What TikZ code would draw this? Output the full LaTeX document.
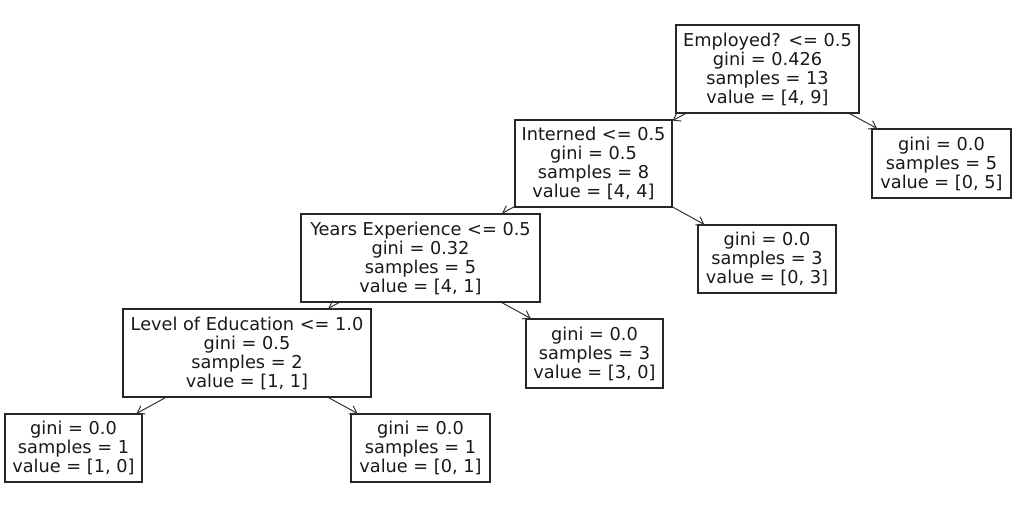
\documentclass[tikz,border=0pt]{standalone}
\usepackage{fontspec}
\setmainfont{DejaVu Sans}
\usetikzlibrary{arrows.meta}
\tikzset{
  treebox/.style={draw=black!85, line width=0.8pt, rectangle, inner sep=0pt, align=center,
    font=\fontsize{13.3}{14.25}\selectfont, text=black!90},
  edge/.style={draw=black!80, line width=0.75pt, -{Straight Barb[length=5pt,width=7pt]}}
}
\begin{document}
\begin{tikzpicture}[x=0.75pt,y=-0.75pt]
\useasboundingbox (0,0) rectangle (1020,520);
\node[treebox, minimum width=183*0.75pt, minimum height=88*0.75pt] (root) at (767.5,69)
  {Employed? <= 0.5\\gini = 0.426\\samples = 13\\value = [4, 9]};
\node[treebox, minimum width=139*0.75pt, minimum height=69*0.75pt] (r1) at (941.5,163.5)
  {gini = 0.0\\samples = 5\\value = [0, 5]};
\node[treebox, minimum width=157*0.75pt, minimum height=87*0.75pt] (int) at (593.5,163.5)
  {Interned <= 0.5\\gini = 0.5\\samples = 8\\value = [4, 4]};
\node[treebox, minimum width=138*0.75pt, minimum height=68*0.75pt] (r2) at (767,259)
  {gini = 0.0\\samples = 3\\value = [0, 3]};
\node[treebox, minimum width=239*0.75pt, minimum height=88*0.75pt] (yrs) at (420.5,258)
  {Years Experience <= 0.5\\gini = 0.32\\samples = 5\\value = [4, 1]};
\node[treebox, minimum width=137*0.75pt, minimum height=69*0.75pt] (r3) at (594.5,353.5)
  {gini = 0.0\\samples = 3\\value = [3, 0]};
\node[treebox, minimum width=248*0.75pt, minimum height=88*0.75pt] (lev) at (247,353)
  {Level of Education <= 1.0\\gini = 0.5\\samples = 2\\value = [1, 1]};
\node[treebox, minimum width=137*0.75pt, minimum height=68*0.75pt] (l1) at (73.5,448)
  {gini = 0.0\\samples = 1\\value = [1, 0]};
\node[treebox, minimum width=139*0.75pt, minimum height=68*0.75pt] (l2) at (420.5,448)
  {gini = 0.0\\samples = 1\\value = [0, 1]};
\draw[edge] (root) -- (int);
\draw[edge] (root) -- (r1);
\draw[edge] (int) -- (yrs);
\draw[edge] (int) -- (r2);
\draw[edge] (yrs) -- (lev);
\draw[edge] (yrs) -- (r3);
\draw[edge] (lev) -- (l1);
\draw[edge] (lev) -- (l2);
\end{tikzpicture}
\end{document}
